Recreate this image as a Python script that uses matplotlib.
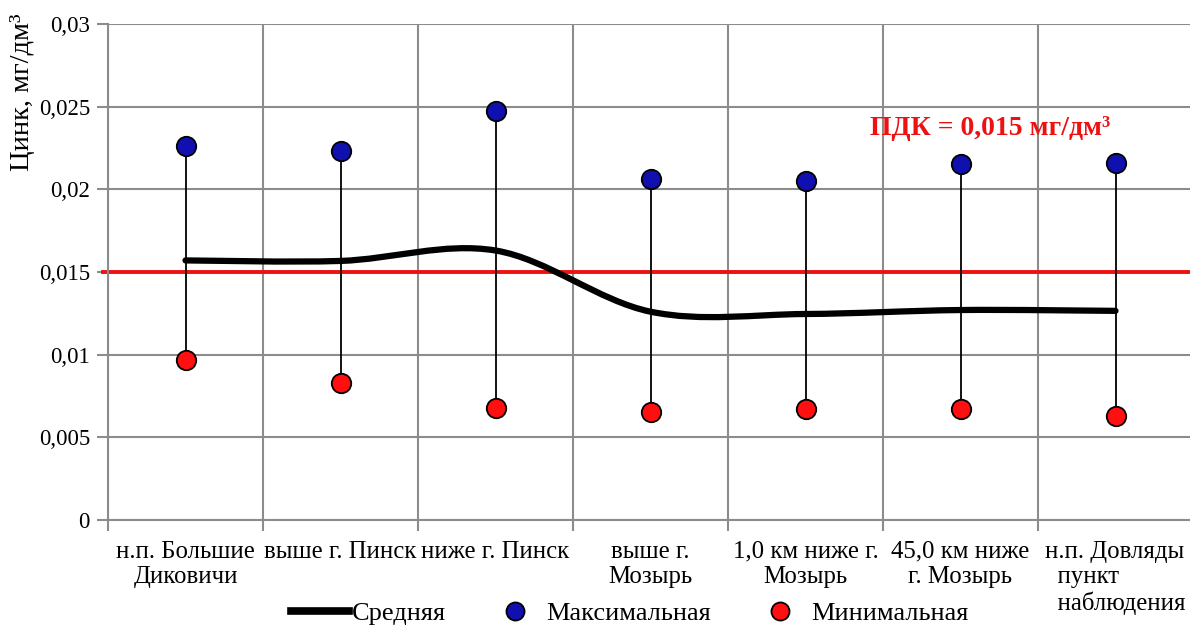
import numpy as np
import matplotlib
matplotlib.use('Agg')
from matplotlib import pyplot as plt
from matplotlib.path import Path
from matplotlib.patches import PathPatch
from matplotlib.lines import Line2D

plt.rcParams['font.family'] = ['Liberation Serif', 'DejaVu Serif']

# данные
sites = ['н.п. Большие\nДиковичи', 'выше г. Пинск', 'ниже г. Пинск',
         'выше г.\nМозырь', '1,0 км ниже г.\nМозырь', '45,0 км ниже\nг. Мозырь',
         'н.п. Довляды\n  пункт\n  наблюдения']
mean_vals = [0.0157, 0.01567, 0.0163, 0.0126, 0.01246, 0.0127, 0.01265]
max_vals = [0.02262, 0.02232, 0.02474, 0.02063, 0.0205, 0.02153, 0.0216]
min_vals = [0.00968, 0.00829, 0.00677, 0.00653, 0.00671, 0.0067, 0.00629]
pdk = 0.015
yticks = [0, 0.005, 0.01, 0.015, 0.02, 0.025, 0.03]
ytick_labels = ['0', '0,005', '0,01', '0,015', '0,02', '0,025', '0,03']

blue = '#1010b0'
red = '#ff0f0f'
grid_c = '#8c8c8c'

fig = plt.figure(figsize=(11.9, 6.26), dpi=100)
ax = fig.add_axes([108 / 1190, 106 / 626, 1085 / 1190, 496 / 626])

x = np.arange(len(sites))
ax.set_xlim(-0.5, len(sites) - 0.5)
ax.set_ylim(0, 0.03)

ax.set_yticks(yticks)
ax.set_yticklabels(ytick_labels, fontsize=16.5)
ax.set_xticks(x)
ax.set_xticklabels(sites, fontsize=17.8, linespacing=1.2)
ax.get_xticklabels()[-1].set_multialignment('left')
ax.set_xticks(np.arange(-0.5, len(sites)), minor=True)
ax.tick_params(axis='x', which='major', length=0, pad=15)
ax.tick_params(axis='x', which='minor', length=8, color=grid_c, width=1.5)
ax.tick_params(axis='y', length=8, color=grid_c, width=1.5, pad=5)
ax.grid(axis='y', color=grid_c, lw=1.5)
ax.grid(axis='x', which='minor', color=grid_c, lw=1.5)
for s in ['top', 'right']:
    ax.spines[s].set_visible(False)
for s in ['left', 'bottom']:
    ax.spines[s].set_color(grid_c)
    ax.spines[s].set_linewidth(1.5)
ax.set_axisbelow(True)

# линия ПДК
ax.plot([-0.535, 6.5], [pdk, pdk], color='#ee1111', lw=2.8, clip_on=False, zorder=2)
ax.text(4.415, 0.0237, 'ПДК = 0,015 мг/дм³', color='#ee1111', fontsize=20,
        fontweight='bold', va='center', ha='left')

# стержни от мин до макс
ax.vlines(x, min_vals, max_vals, color='black', lw=1.3, zorder=3)

# сглаженная средняя (кривые Безье как в Excel)
pts = np.column_stack([x, mean_vals]).astype(float)
verts = [pts[0]]
codes = [Path.MOVETO]
n = len(pts)
for i in range(n - 1):
    p0 = pts[i - 1] if i > 0 else pts[i]
    p1 = pts[i]
    p2 = pts[i + 1]
    p3 = pts[i + 2] if i + 2 < n else pts[i + 1]
    c1 = p1 + (p2 - p0) / 6
    c2 = p2 - (p3 - p1) / 6
    verts += [c1, c2, p2]
    codes += [Path.CURVE4] * 3
ax.add_patch(PathPatch(Path(verts, codes), fill=False, ec='black', lw=4.5,
                       capstyle='round', zorder=4))

ax.plot(x, max_vals, 'o', ms=14, mfc=blue, mec='black', mew=1.3, zorder=5)
ax.plot(x, min_vals, 'o', ms=14, mfc=red, mec='black', mew=1.3, zorder=5)

fig.text(23 / 1190, 1 - 92 / 626, 'Цинк, мг/дм³', rotation=90, fontsize=20.5,
         ha='center', va='center')

handles = [Line2D([], [], color='black', lw=5.5),
           Line2D([], [], ls='none', marker='o', ms=13, mfc=blue, mec='black', mew=1.3),
           Line2D([], [], ls='none', marker='o', ms=13, mfc=red, mec='black', mew=1.3)]
fig.legend(handles, ['Средняя', 'Максимальная', 'Минимальная'], loc='center',
           bbox_to_anchor=(630 / 1190, 1 - 613 / 626), ncol=3, frameon=False,
           fontsize=19, handlelength=2.2, handletextpad=0.1, columnspacing=1.5,
           borderpad=0)

fig.savefig('out.png', dpi=100)
